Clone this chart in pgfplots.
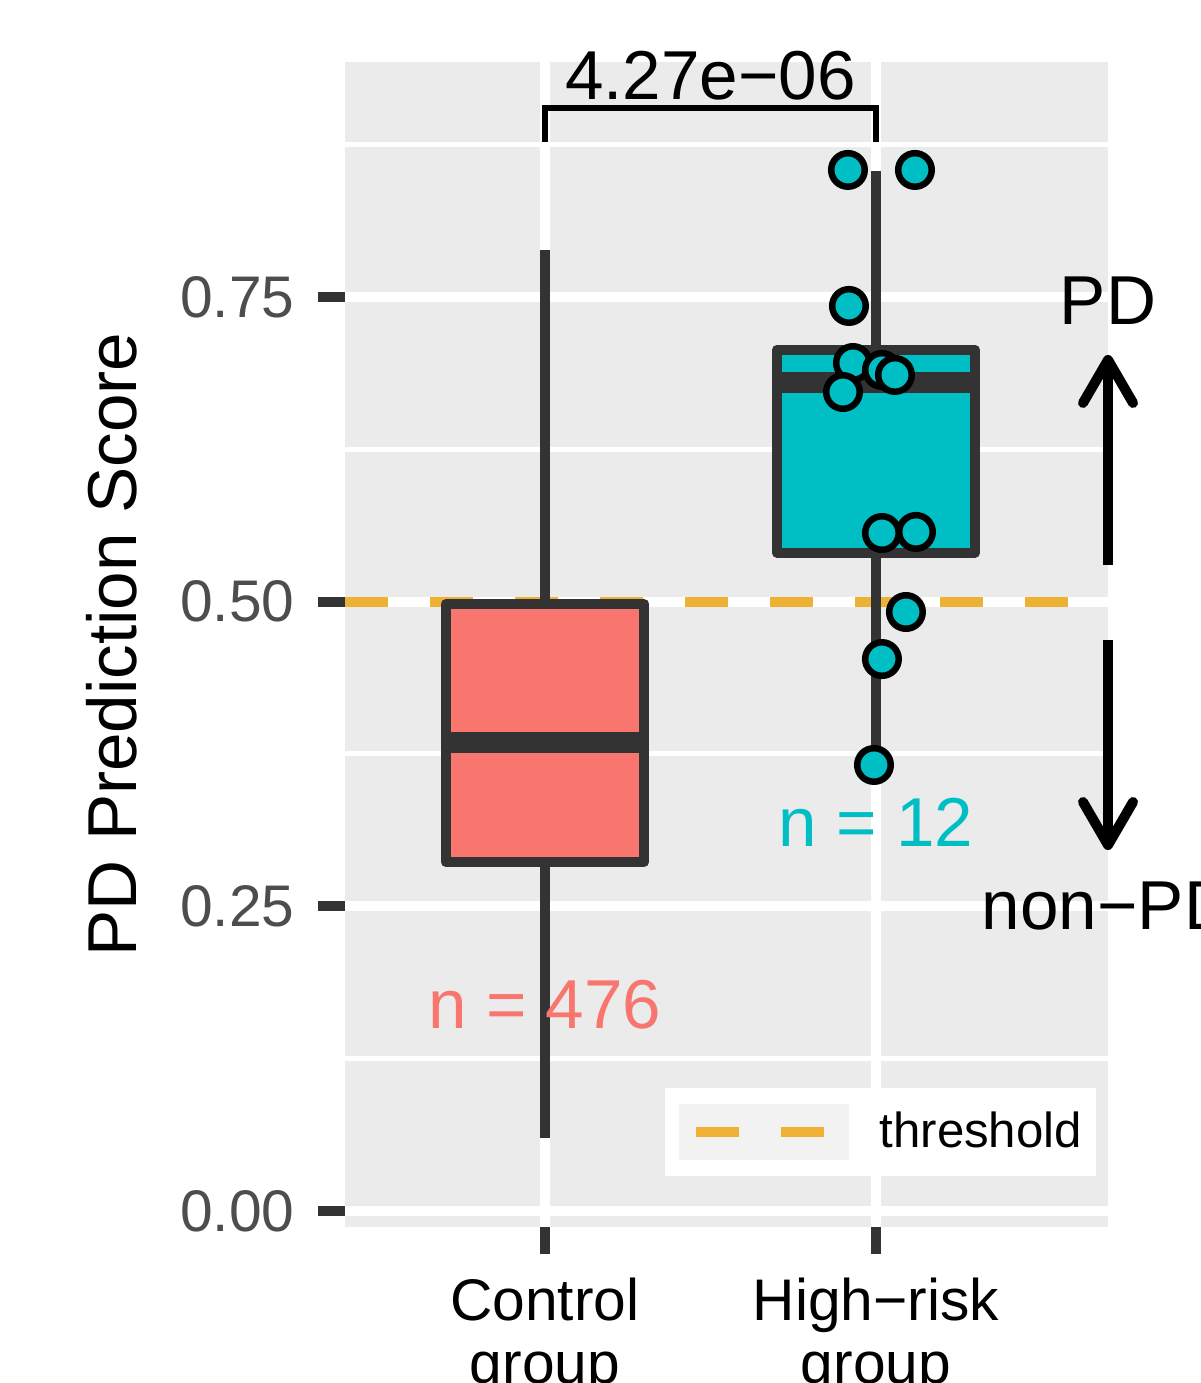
\documentclass[border=0pt]{standalone}
\usepackage{fontspec}
\setmainfont{Liberation Sans}
\usepackage{pgfplots}
\pgfplotsset{compat=1.18}
\usepgfplotslibrary{statistics}
\usetikzlibrary{arrows.meta}
\definecolor{panelgrey}{HTML}{EBEBEB}
\definecolor{boxline}{HTML}{333333}
\definecolor{tickgrey}{HTML}{333333}
\definecolor{labelgrey}{HTML}{4D4D4D}
\definecolor{salmon}{HTML}{F8766D}
\definecolor{cyanc}{HTML}{00BFC4}
\definecolor{thresh}{HTML}{EDB233}
\definecolor{keygrey}{HTML}{F2F2F2}
\begin{document}
\begin{tikzpicture}
\path[use as bounding box, clip] (0,0) rectangle (12cm,13.83cm);
\begin{axis}[
  at={(3.45cm,1.56cm)}, anchor=south west,
  scale only axis, width=7.63cm, height=11.65cm,
  xmin=0.396, xmax=2.701, ymin=-0.0131, ymax=0.9428,
  clip=false,
  axis background/.style={fill=panelgrey},
  axis line style={draw=none},
  tick pos=left, tick align=outside,
  major tick length=0.27cm, minor tick length=0pt,
  every tick/.style={draw=tickgrey, line width=0.1cm},
  xtick={1,2},
  xticklabels={Control\\group, High−risk\\group},
  xticklabel style={align=center, anchor=north, inner sep=0pt, yshift=-0.23cm, font=\fontsize{16.7}{17.9}\selectfont, text=black},
  ytick={0,0.25,0.5,0.75},
  yticklabels={0.00,0.25,0.50,0.75},
  minor ytick={0.125,0.375,0.625,0.875},
  yticklabel style={anchor=east, inner sep=0pt, xshift=-0.23cm, font=\fontsize{16.7}{20}\selectfont, text=labelgrey},
  xmajorgrids, ymajorgrids, yminorgrids,
  major grid style={white, line width=0.1cm},
  minor grid style={white, line width=0.05cm},
  ylabel={PD Prediction Score},
  every axis y label/.style={at={(axis description cs:-0.306,0.5)}, rotate=90, anchor=center, inner sep=0pt, font=\fontsize{19.7}{22}\selectfont},
  legend style={at={(axis description cs:0.9852,0.0432)}, anchor=south east, fill=white, draw=none, inner xsep=0.14cm, inner ysep=0.157cm, font=\fontsize{14}{16}\selectfont, nodes={inner sep=0pt}, column sep=0pt},
  legend cell align=left,
]
\addplot[draw=thresh, line width=0.1cm, dash pattern=on 0.425cm off 0.425cm,
  legend image code/.code={
    \path[fill=keygrey, draw=none] (0cm,-0.283cm) rectangle (1.7cm,0.283cm);
    \draw[draw=thresh, line width=0.1cm, dash pattern=on 0.43cm off 0.42cm] (0.173cm,0cm) -- (1.453cm,0cm);
    \path[draw=none] (2.01cm,0cm);
  }] coordinates {(0.396,0.5) (2.701,0.5)};
\addlegendentry{threshold}
\addplot+[boxplot prepared={draw direction=y, draw position=1, lower whisker=0.0599, lower quartile=0.2864, median=0.3844, upper quartile=0.498, upper whisker=0.7886, box extend=0.6, whisker extend=0},
  solid, mark=none, draw=boxline, fill=salmon, line width=0.1cm, line join=round, boxplot/every median/.style={line width=0.21cm}] coordinates {};
\addplot+[boxplot prepared={draw direction=y, draw position=2, lower whisker=0.366, lower quartile=0.5403, median=0.6794, upper quartile=0.7065, upper whisker=0.853, box extend=0.6, whisker extend=0},
  solid, mark=none, draw=boxline, fill=cyanc, line width=0.1cm, line join=round, boxplot/every median/.style={line width=0.21cm}] coordinates {};
\addplot[only marks, mark=*, mark size=4.77pt, mark options={fill=cyanc, draw=black, line width=0.065cm}] coordinates {
  (1.9154,0.8542) (2.1178,0.8542) (1.9184,0.7426) (1.9305,0.6958)
  (2.0181,0.6901) (2.0574,0.6860) (1.9003,0.6720) (2.0181,0.5563)
  (2.1208,0.5572) (2.0906,0.4915) (2.0181,0.4529) (1.9940,0.3660)};
\draw[black, line width=0.06cm] (axis cs:1,0.877) -- (axis cs:1,0.905) -- (axis cs:2,0.905) -- (axis cs:2,0.877);
\node[anchor=base, inner sep=0pt, font=\fontsize{19.7}{22}\selectfont] at (axis cs:1.5,0.9116) {4.27e−06};
\node[anchor=base, inner sep=0pt, text=salmon, font=\fontsize{19.7}{22}\selectfont] at (axis cs:1,0.150) {n = 476};
\node[anchor=base, inner sep=0pt, text=cyanc, font=\fontsize{19.7}{22}\selectfont] at (axis cs:2,0.2995) {n = 12};
\node[anchor=base, inner sep=0pt, font=\fontsize{19.7}{22}\selectfont] at (axis cs:2.701,0.727) {PD};
\node[anchor=base, inner sep=0pt, font=\fontsize{19.7}{22}\selectfont] at (axis cs:2.701,0.2306) {non−PD};
\draw[black, line width=0.1cm, -{Straight Barb[length=0.43cm, width=0.5cm, round]}] (axis cs:2.701,0.530) -- (axis cs:2.701,0.7024);
\draw[black, line width=0.1cm, -{Straight Barb[length=0.43cm, width=0.5cm, round]}] (axis cs:2.701,0.4685) -- (axis cs:2.701,0.2962);
\end{axis}
\end{tikzpicture}
\end{document}
